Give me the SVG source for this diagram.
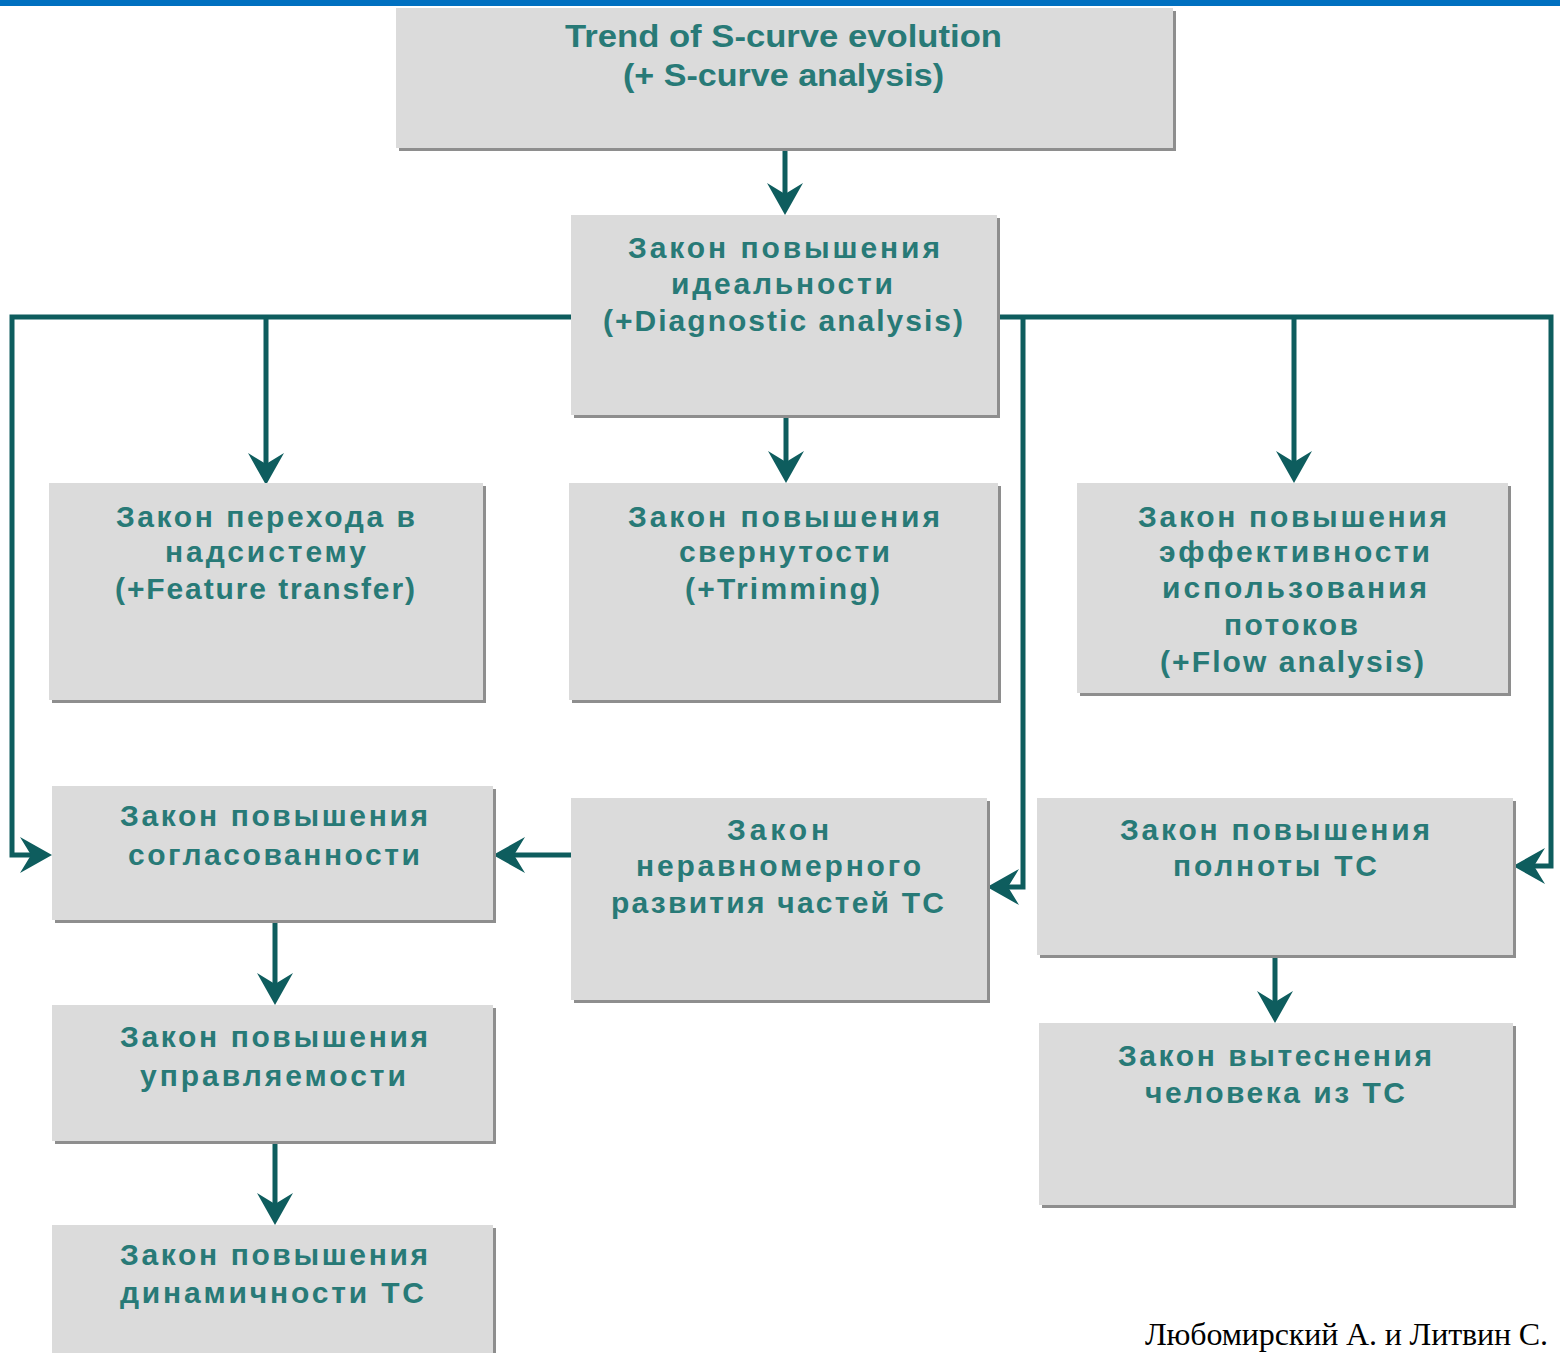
<svg xmlns="http://www.w3.org/2000/svg" width="1560" height="1353" viewBox="0 0 1560 1353">
<style>
.shadow{fill:#8e8e8e}
.box{fill:#dbdbdb}
.t{font-family:"Liberation Sans",Arial,sans-serif;font-weight:bold;font-size:30px;fill:#287a77}
.te{font-family:"Liberation Sans",Arial,sans-serif;font-weight:bold;font-size:31px;fill:#287a77}
.c{fill:none;stroke:#0e5d5e;stroke-width:5;stroke-linecap:butt;stroke-linejoin:miter}
.foot{font-family:"Liberation Serif","Times New Roman",serif;font-size:32px;fill:#000}
</style>
<defs>
<marker id="ah" markerUnits="userSpaceOnUse" viewBox="0 0 32 36" markerWidth="32" markerHeight="36" refX="22" refY="18" orient="auto">
<path d="M0,0 L32,18 L0,36 L11,18 Z" fill="#0e5d5e"/>
</marker>
</defs>
<rect x="0" y="0" width="1560" height="1353" fill="#ffffff"/>
<rect x="0" y="0" width="1560" height="6" fill="#0070c0"/>

<g id="connectors">
<path class="c" d="M785,148 V205" marker-end="url(#ah)"/>
<path class="c" d="M571,317 H12 V855 H42" marker-end="url(#ah)"/>
<path class="c" d="M266,317 V475" marker-end="url(#ah)"/>
<path class="c" d="M786,415 V473" marker-end="url(#ah)"/>
<path class="c" d="M997,317 H1551 V866 H1523" marker-end="url(#ah)"/>
<path class="c" d="M1023,317 V887 H997" marker-end="url(#ah)"/>
<path class="c" d="M1294,317 V473" marker-end="url(#ah)"/>
<path class="c" d="M571,855 H503" marker-end="url(#ah)"/>
<path class="c" d="M1275,935 V1013" marker-end="url(#ah)"/>
<path class="c" d="M275,920 V995" marker-end="url(#ah)"/>
<path class="c" d="M275,1141 V1215" marker-end="url(#ah)"/>
</g>

<g id="n1">
<rect class="shadow" x="399" y="11" width="777" height="140"/>
<rect class="box" x="396" y="8" width="777" height="140"/>
<text class="te" x="565" y="47" textLength="437" lengthAdjust="spacingAndGlyphs">Trend of S-curve evolution</text>
<text class="te" x="623" y="86" textLength="321" lengthAdjust="spacingAndGlyphs">(+ S-curve analysis)</text>
</g>

<g id="n2">
<rect class="shadow" x="574" y="218" width="426" height="200"/>
<rect class="box" x="571" y="215" width="426" height="200"/>
<text class="t" x="628" y="258" textLength="312">Закон повышения</text>
<text class="t" x="671" y="294" textLength="222">идеальности</text>
<text class="t" x="603" y="331" textLength="360">(+Diagnostic analysis)</text>
</g>

<g id="n3">
<rect class="shadow" x="52" y="486" width="434" height="217"/>
<rect class="box" x="49" y="483" width="434" height="217"/>
<text class="t" x="116" y="527" textLength="299">Закон перехода в</text>
<text class="t" x="165" y="562" textLength="201">надсистему</text>
<text class="t" x="115" y="599" textLength="300">(+Feature transfer)</text>
</g>

<g id="n4">
<rect class="shadow" x="572" y="486" width="429" height="217"/>
<rect class="box" x="569" y="483" width="429" height="217"/>
<text class="t" x="628" y="527" textLength="312">Закон повышения</text>
<text class="t" x="679" y="562" textLength="211">свернутости</text>
<text class="t" x="685" y="599" textLength="195">(+Trimming)</text>
</g>

<g id="n5">
<rect class="shadow" x="1080" y="486" width="431" height="210"/>
<rect class="box" x="1077" y="483" width="431" height="210"/>
<text class="t" x="1138" y="527" textLength="309">Закон повышения</text>
<text class="t" x="1159" y="562" textLength="271">эффективности</text>
<text class="t" x="1162" y="598" textLength="265">использования</text>
<text class="t" x="1224" y="635" textLength="134">потоков</text>
<text class="t" x="1160" y="672" textLength="264">(+Flow analysis)</text>
</g>

<g id="n6">
<rect class="shadow" x="55" y="789" width="441" height="134"/>
<rect class="box" x="52" y="786" width="441" height="134"/>
<text class="t" x="120" y="826" textLength="308">Закон повышения</text>
<text class="t" x="128" y="865" textLength="292">согласованности</text>
</g>

<g id="n7">
<rect class="shadow" x="574" y="801" width="416" height="202"/>
<rect class="box" x="571" y="798" width="416" height="202"/>
<text class="t" x="727" y="840" textLength="102">Закон</text>
<text class="t" x="636" y="876" textLength="285">неравномерного</text>
<text class="t" x="611" y="913" textLength="333">развития частей ТС</text>
</g>

<g id="n8">
<rect class="shadow" x="1040" y="801" width="476" height="157"/>
<rect class="box" x="1037" y="798" width="476" height="157"/>
<text class="t" x="1120" y="840" textLength="310">Закон повышения</text>
<text class="t" x="1173" y="876" textLength="204">полноты ТС</text>
</g>

<g id="n9">
<rect class="shadow" x="1042" y="1026" width="474" height="182"/>
<rect class="box" x="1039" y="1023" width="474" height="182"/>
<text class="t" x="1118" y="1066" textLength="314">Закон вытеснения</text>
<text class="t" x="1145" y="1103" textLength="260">человека из ТС</text>
</g>

<g id="n10">
<rect class="shadow" x="55" y="1008" width="441" height="136"/>
<rect class="box" x="52" y="1005" width="441" height="136"/>
<text class="t" x="120" y="1047" textLength="308">Закон повышения</text>
<text class="t" x="140" y="1086" textLength="266">управляемости</text>
</g>

<g id="n11">
<rect class="shadow" x="55" y="1228" width="441" height="140"/>
<rect class="box" x="52" y="1225" width="441" height="140"/>
<text class="t" x="120" y="1265" textLength="308">Закон повышения</text>
<text class="t" x="120" y="1303" textLength="304">динамичности ТС</text>
</g>

<text class="foot" x="1145" y="1345" textLength="403">Любомирский А. и Литвин С.</text>
</svg>
